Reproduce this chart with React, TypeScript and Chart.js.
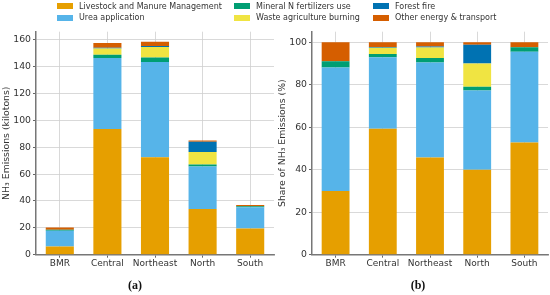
import React, { useEffect, useRef } from "react";
import { Chart, registerables } from "chart.js";
Chart.register(...registerables);

const regions = ["BMR", "Central", "Northeast", "North", "South"];
const seriesNames = [
  "Livestock and Manure Management",
  "Urea application",
  "Mineral N fertilizers use",
  "Waste agriculture burning",
  "Forest fire",
  "Other energy & transport",
];
const seriesColors = ["#E69F00", "#56B4E9", "#009E73", "#F0E442", "#0072B2", "#D55E00"];
const livestock = [6.1, 93.5, 72.5, 34.0, 19.5];
const urea = [11.8, 53.0, 71.0, 31.7, 15.8];
const mineral = [0.6, 2.4, 3.3, 1.5, 0.8];
const waste = [0, 4.6, 7.8, 9.3, 0];
const forest = [0, 0.6, 0.8, 7.5, 0];
const other = [1.8, 3.5, 3.1, 1.0, 0.85];
const leftTicks = [0, 20, 40, 60, 80, 100, 120, 140, 160];
const rightTicks = [0, 20, 40, 60, 80, 100];

const allSeries = [livestock, urea, mineral, waste, forest, other];
const totals = regions.map((_, i) => allSeries.reduce((s, a) => s + a[i], 0));
const shareSeries = allSeries.map((a) => a.map((v, i) => (v / totals[i]) * 100));

const FONT = "'DejaVu Sans', sans-serif";

function makeConfig(data: number[][], max: number, ticks: number[], title: string): any {
  return {
    type: "bar",
    data: {
      labels: regions,
      datasets: data.map((d, k) => ({
        label: seriesNames[k],
        data: d,
        backgroundColor: seriesColors[k],
        borderWidth: 0,
        barPercentage: 0.59,
        categoryPercentage: 1,
      })),
    },
    options: {
      responsive: false,
      animation: false,
      devicePixelRatio: 1,
      layout: { padding: { top: 31.7, left: 1, right: 2, bottom: 24.5 } },
      plugins: { legend: { display: false }, tooltip: { enabled: false } },
      scales: {
        x: {
          stacked: true,
          offset: true,
          grid: {
            offset: false,
            color: "#cfcfcf",
            lineWidth: 0.8,
            borderDash: [1, 2.5],
            tickColor: "#666",
            tickBorderDash: [],
            tickLength: 3,
            tickWidth: 1,
          },
          border: { display: true, color: "#777", width: 1.5 },
          ticks: { color: "#333", font: { family: FONT, size: 9 }, padding: 1, maxRotation: 0, autoSkip: false },
        },
        y: {
          stacked: true,
          min: 0,
          max: max,
          afterBuildTicks: (scale: any) => {
            scale.ticks = ticks.map((v) => ({ value: v }));
          },
          afterFit: (scale: any) => {
            scale.width = 35;
          },
          grid: {
            color: "#cfcfcf",
            lineWidth: 0.8,
            borderDash: [1, 2.5],
            tickColor: "#666",
            tickBorderDash: [],
            tickLength: 3,
            tickWidth: 1,
          },
          border: { display: true, color: "#777", width: 1.5 },
          ticks: { color: "#333", font: { family: FONT, size: 9.3 }, padding: 2, autoSkip: false },
          title: {
            display: true,
            text: title,
            color: "#333",
            font: { family: FONT, size: 9.3 },
            padding: 0,
          },
        },
      },
    },
  };
}

function ChartCanvas(props: { data: number[][]; max: number; ticks: number[]; title: string; left: number; width: number }) {
  const ref = useRef<HTMLCanvasElement | null>(null);
  useEffect(() => {
    if (!ref.current) return;
    const c = new Chart(ref.current, makeConfig(props.data, props.max, props.ticks, props.title));
    return () => c.destroy();
  }, []);
  return (
    <canvas
      ref={ref}
      width={props.width}
      height={295}
      style={{ position: "absolute", left: props.left, top: 0, width: props.width, height: 295 }}
    />
  );
}

const legendX = [57, 234, 373];
const legendY = [6, 17.5];

export default function App() {
  return (
    <div style={{ position: "absolute", left: 0, top: 0, width: 550, height: 295, background: "#fff", overflow: "hidden" }}>
      <ChartCanvas data={allSeries} max={166} ticks={leftTicks} title="NH₃ Emissions (kilotons)" left={0} width={276} />
      <ChartCanvas data={shareSeries} max={105} ticks={rightTicks} title="Share of NH₃ Emissions (%)" left={276} width={274} />
      {seriesNames.map((name, i) => {
        const col = Math.floor(i / 2);
        const row = i % 2;
        return (
          <div
            key={name}
            style={{
              position: "absolute",
              left: legendX[col],
              top: legendY[row] - 6,
              height: 12,
              display: "flex",
              alignItems: "center",
              fontFamily: FONT,
              fontSize: 8,
              color: "#333",
              whiteSpace: "nowrap",
            }}
          >
            <span style={{ display: "inline-block", width: 16, height: 6, background: seriesColors[i], marginRight: 6 }} />
            <span>{name}</span>
          </div>
        );
      })}
      <div style={{ position: "absolute", left: 135 - 20, width: 40, top: 278, textAlign: "center", fontFamily: "'Liberation Serif', serif", fontWeight: "bold", fontSize: 12, color: "#111" }}>(a)</div>
      <div style={{ position: "absolute", left: 418 - 20, width: 40, top: 278, textAlign: "center", fontFamily: "'Liberation Serif', serif", fontWeight: "bold", fontSize: 12, color: "#111" }}>(b)</div>
    </div>
  );
}
